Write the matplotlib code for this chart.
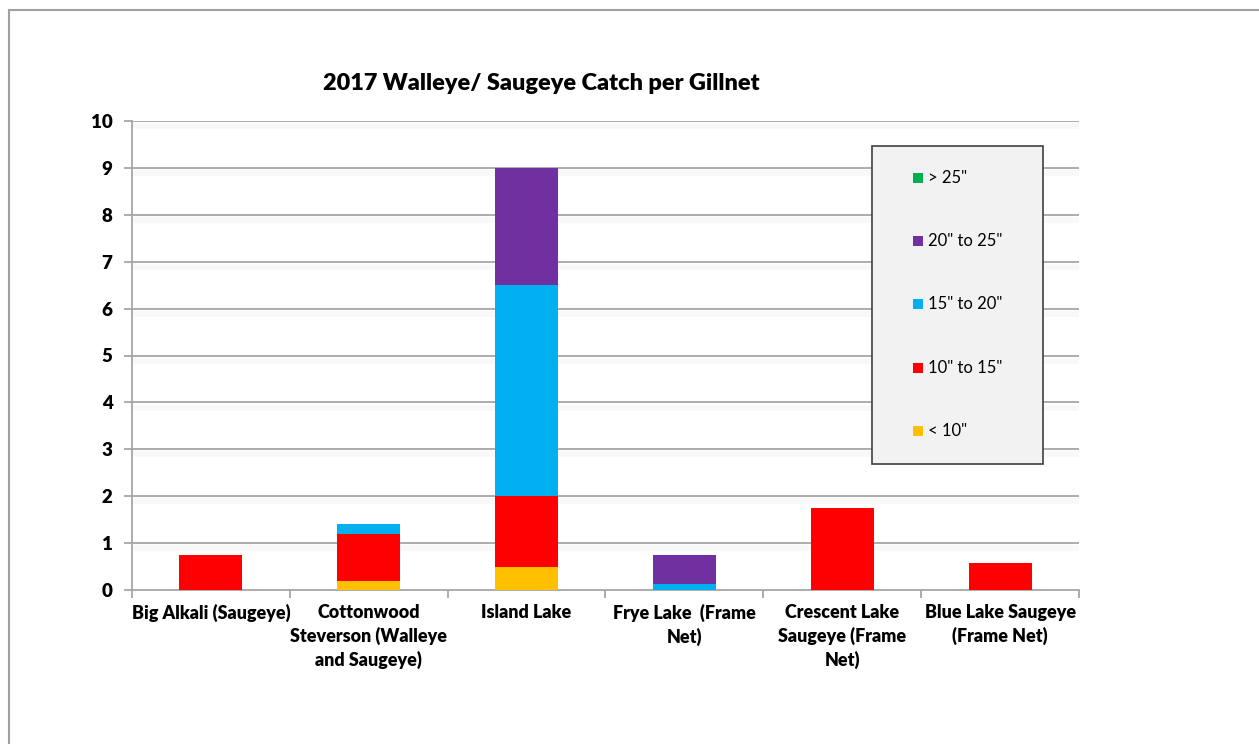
import matplotlib
matplotlib.use("Agg")
import matplotlib.pyplot as plt
import numpy as np
from matplotlib.lines import Line2D
from matplotlib.patches import Rectangle

plt.rcParams['font.family'] = ['Lato', 'DejaVu Sans']

lakes = [
    "Big Alkali (Saugeye)",
    "Cottonwood\nSteverson (Walleye\nand Saugeye)",
    "Island Lake",
    "Frye Lake  (Frame\nNet)",
    "Crescent Lake\nSaugeye (Frame\nNet)",
    "Blue Lake Saugeye\n(Frame Net)",
]
size_classes = ['< 10"', '10" to 15"', '15" to 20"', '20" to 25"', '> 25"']
colors = ['#ffc000', '#ff0000', '#00b0f0', '#7030a0', '#00b050']

under_10 = [0.0, 0.2, 0.5, 0.0, 0.0, 0.0]
from_10_to_15 = [0.75, 1.0, 1.5, 0.0, 1.75, 0.57]
from_15_to_20 = [0.0, 0.2, 4.5, 0.125, 0.0, 0.0]
from_20_to_25 = [0.0, 0.0, 2.5, 0.625, 0.0, 0.0]
over_25 = [0.0, 0.0, 0.0, 0.0, 0.0, 0.0]
series = [under_10, from_10_to_15, from_15_to_20, from_20_to_25, over_25]

yticks = list(range(0, 11))

fig = plt.figure(figsize=(12.59, 7.44), dpi=100)
ax = fig.add_axes([132 / 1259, 1 - 590 / 744, (1079 - 132) / 1259, (590 - 121) / 744])

x = np.arange(len(lakes))
bottom = np.zeros(len(lakes))
handles = []
for vals, col, lab in zip(series, colors, size_classes):
    v = np.array(vals)
    ax.bar(x, v, width=0.4, bottom=bottom, color=col, zorder=3)
    bottom += v
    handles.append((col, lab))

ax.set_xlim(-0.5, len(lakes) - 0.5)
ax.set_ylim(0, 10)

# gridlines with a soft shade just beneath
for yv in yticks[1:]:
    ax.axhline(yv - 0.11, color='#f8f8f8', lw=4, zorder=1)
    ax.axhline(yv, color='#a6a6a6', lw=1.3, zorder=2)

for s in ['top', 'right']:
    ax.spines[s].set_visible(False)
for s in ['left', 'bottom']:
    ax.spines[s].set_color('#a6a6a6')
    ax.spines[s].set_linewidth(1.3)

ax.set_yticks(yticks)
ax.set_yticklabels([str(t) for t in yticks], fontsize=13.5, fontweight='heavy')
ax.tick_params(axis='y', length=6, color='#a6a6a6', width=1.3, pad=8)

ax.set_xticks(np.arange(len(lakes) + 1) - 0.5)
ax.set_xticklabels([])
ax.tick_params(axis='x', which='major', length=6, color='#a6a6a6', width=1.3)
ax.set_xticks(x, minor=True)
ax.set_xticklabels(lakes, minor=True, fontsize=12.9, fontweight='heavy', linespacing=1.4)
ax.tick_params(axis='x', which='minor', length=0, pad=10)

fig.text(541 / 1259, 1 - 83 / 744, "2017 Walleye/ Saugeye Catch per Gillnet",
         ha='center', va='center', fontsize=16.9, fontweight='heavy')

# legend box
lx0, lx1, ly0, ly1 = 872, 1043, 146, 464
fig.patches.append(Rectangle((lx0 / 1259, 1 - ly1 / 744), (lx1 - lx0) / 1259, (ly1 - ly0) / 744,
                             transform=fig.transFigure, facecolor='#f2f2f2',
                             edgecolor='#404040', lw=1.2, zorder=5))
entry_y = [431, 368, 304, 241, 178]
for (col, lab), ey in zip(handles, entry_y):
    fig.patches.append(Rectangle((913 / 1259, 1 - (ey + 5) / 744), 10 / 1259, 10 / 744,
                                 transform=fig.transFigure, facecolor=col, edgecolor='none', zorder=6))
    fig.text(928 / 1259, 1 - ey / 744, lab, ha='left', va='center', fontsize=12, zorder=7)

# outer frame
fig.lines.append(Line2D([9 / 1259, 1], [1 - 10 / 744, 1 - 10 / 744], transform=fig.transFigure,
                        color='#a0a0a0', lw=1.5))
fig.lines.append(Line2D([9 / 1259, 9 / 1259], [0, 1 - 10 / 744], transform=fig.transFigure,
                        color='#a0a0a0', lw=1.5))

fig.savefig("out.png", dpi=100, facecolor='white')
